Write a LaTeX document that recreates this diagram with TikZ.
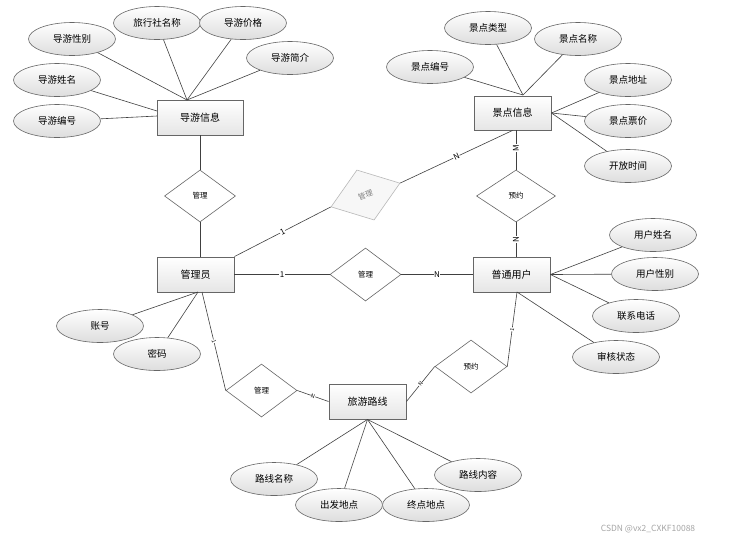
\documentclass[tikz,border=0pt]{standalone}
\usepackage{fontspec}
\setmainfont{Noto Sans CJK SC}
\usetikzlibrary{shapes.geometric,shadows}

\begin{document}
\begin{tikzpicture}[x=1pt,y=-1pt,
    ent/.style={rectangle, draw=black!60, line width=0.9pt, top color=white, bottom color=black!10,
      minimum width=77pt, minimum height=35pt, font=\fontsize{10}{12}\selectfont,
      drop shadow={opacity=0.2, shadow xshift=1pt, shadow yshift=-1pt}},
    attr/.style={ellipse, draw=black!60, line width=0.6pt, top color=white, bottom color=black!13,
      minimum width=87pt, minimum height=33pt, inner sep=0pt, font=\fontsize{9.5}{11}\selectfont},
    rel/.style={diamond, draw=black!60, line width=0.6pt, fill=white, minimum width=71pt,
      minimum height=53pt, inner sep=0pt, font=\fontsize{7.5}{9}\selectfont},
    card/.style={font=\fontsize{8}{9}\selectfont, fill=white, inner sep=0.5pt},
    tinycard/.style={font=\fontsize{5.5}{6}\selectfont, fill=white, inner sep=0.3pt, sloped},
    ln/.style={draw=black!75, line width=0.6pt}]
  \useasboundingbox[fill=white] (0,0) rectangle (733,542);

  % entities
  \node[ent, minimum width=86pt] (dyxx) at (200,117.5) {导游信息};
  \node[ent, minimum height=34pt] (jdxx) at (512.5,113) {景点信息};
  \node[ent] (gly) at (195.5,274.5) {管理员};
  \node[ent] (pt) at (511.5,274.5) {普通用户};
  \node[ent] (lx) at (367.5,401.5) {旅游路线};

  % relations
  \node[rel, minimum height=52pt] (gl1) at (200,196) {管理};
  \node[rel, draw=black!28, fill=black!3, text=black!50, minimum width=73pt, rotate=19] (gl3) at (365.5,195) {管理};
  \node[rel, minimum width=79pt, minimum height=52pt] (yy1) at (516,196) {预约};
  \node[rel] (gl2) at (365.5,274.5) {管理};
  \node[rel] (gl4) at (261.5,390.5) {管理};
  \node[rel, minimum width=72pt] (yy2) at (471,366.5) {预约};

  % attributes
  \node[attr] (dyxb) at (72,39) {导游性别};
  \node[attr] (lxsmc) at (157,23) {旅行社名称};
  \node[attr] (dyjg) at (243,23) {导游价格};
  \node[attr] (dyjj) at (290,58) {导游简介};
  \node[attr] (dyxm) at (57,80) {导游姓名};
  \node[attr] (dybh) at (57,121) {导游编号};
  \node[attr] (jdlx) at (488,28) {景点类型};
  \node[attr] (jdmc) at (578,39) {景点名称};
  \node[attr] (jdbh) at (430,67) {景点编号};
  \node[attr] (jddz) at (628,80) {景点地址};
  \node[attr] (jdpj) at (628,121) {景点票价};
  \node[attr] (kfsj) at (628,166) {开放时间};
  \node[attr] (yhxm) at (653,235) {用户姓名};
  \node[attr] (yhxb) at (655,274) {用户性别};
  \node[attr] (lxdh) at (636,316) {联系电话};
  \node[attr] (shzt) at (616,357) {审核状态};
  \node[attr] (zh) at (100,326) {账号};
  \node[attr] (mm) at (157,354) {密码};
  \node[attr] (lxmc) at (274,479) {路线名称};
  \node[attr] (cfdd) at (339,505) {出发地点};
  \node[attr] (zddd) at (426,505) {终点地点};
  \node[attr] (lxnr) at (478,475) {路线内容};

  % attachment points on the boxes
  \coordinate (dyT) at (187,100);
  \coordinate (dyL) at (157,111);
  \coordinate (dyL2) at (157,116);
  \coordinate (jdT) at (523,95);
  \coordinate (glB) at (198,292);
  \coordinate (glB2) at (202,292);
  \coordinate (ptB) at (517,292);

  % attribute links
  \foreach \a in {dyxb,lxsmc,dyjg,dyjj} \draw[ln] (\a) -- (dyT);
  \draw[ln] (dyxm) -- (dyL);
  \draw[ln] (dybh) -- (dyL2);
  \foreach \a in {jdlx,jdmc,jdbh} \draw[ln] (\a) -- (jdT);
  \foreach \a in {jddz,jdpj,kfsj} \draw[ln] (\a) -- (jdxx.east);
  \foreach \a in {yhxm,yhxb,lxdh} \draw[ln] (\a) -- (pt.east);
  \draw[ln] (shzt) -- (ptB);
  \foreach \a in {zh,mm} \draw[ln] (\a) -- (glB);
  \foreach \a in {lxmc,cfdd,zddd,lxnr} \draw[ln] (\a) -- (lx.south);

  % relation links
  \draw[ln] (gl1.north) -- (gl1.north |- dyxx.south);
  \draw[ln] (gl1.south) -- (gl1.south |- gly.north);
  \draw[ln] (yy1.north) -- node[card, rotate=90, pos=0.55]{M} (yy1.north |- jdxx.south);
  \draw[ln] (yy1.south) -- node[card, rotate=90]{N} (yy1.south |- pt.north);
  \draw[ln] (jdxx.south) -- node[card, sloped]{N} (gl3.east);
  \draw[ln] (gl3.west) -- node[card, sloped]{1} (gly.north east);
  \draw[ln] (gly.east) -- node[card]{1} (gl2.west);
  \draw[ln] (gl2.east) -- node[card]{N} (pt.west);
  \draw[ln] (glB2) -- node[tinycard]{1} (gl4.west);
  \draw[ln] (gl4.east) -- node[tinycard]{N} (lx.west);
  \draw[ln] (lx.east) -- node[tinycard]{N} (yy2.west);
  \draw[ln] (yy2.east) -- node[tinycard]{1} (ptB);

  \node[text=black!35, font=\fontsize{8.5}{10}\selectfont] (wm) at (648,529) {CSDN @vx2\_CXKF10088};
\end{tikzpicture}
\end{document}
